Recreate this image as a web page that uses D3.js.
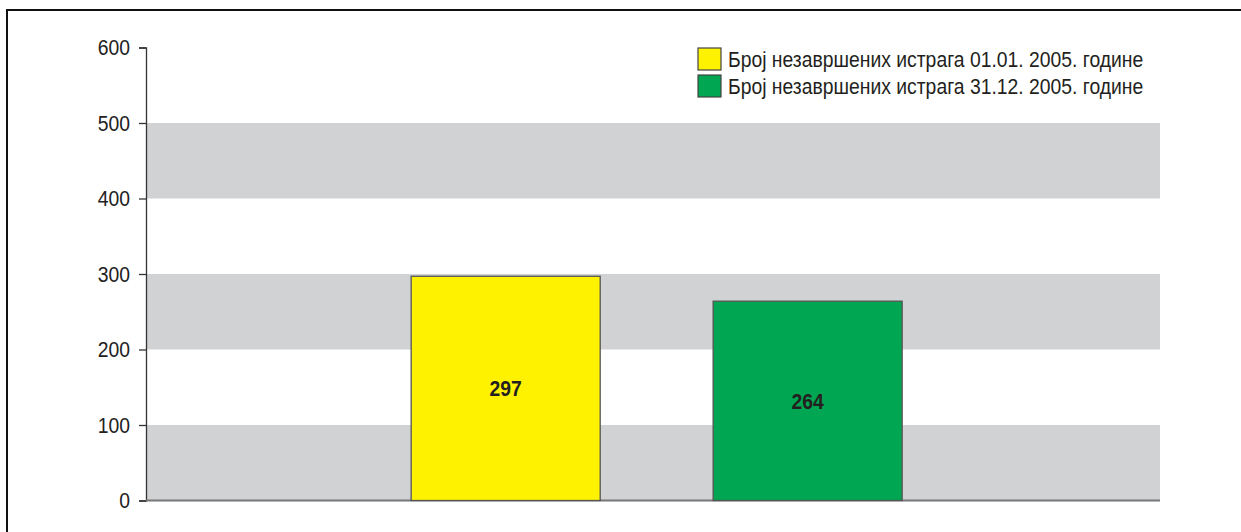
<!DOCTYPE html>
<html>
<head>
<meta charset="utf-8">
<script src="https://cdn.jsdelivr.net/npm/d3@7"></script>
<style>
  html, body { margin: 0; padding: 0; background: #fff; }
  svg { display: block; }
  text { font-family: "Liberation Sans", Arial, Helvetica, sans-serif; }
</style>
</head>
<body>
<svg id="chart" width="1241" height="532"></svg>
<script>
// Series shown as the two bars
const seriesNames = [
  "Број незавршених истрага 01.01. 2005. године",
  "Број незавршених истрага 31.12. 2005. године"
];
const seriesValues = [297, 264];
const seriesColors = ["#fff200", "#00a651"];
const yTicks = [0, 100, 200, 300, 400, 500, 600];

// Horizontal squeeze giving a condensed look to the sans font
const NARROW = 0.86;
const FONT = 22.5;

const svg = d3.select("#chart");
const plot = { left: 146, right: 1160, top: 47.5, bottom: 500.5 };

const y = d3.scaleLinear().domain([0, 600]).range([plot.bottom, plot.top]);
const x = d3.scaleBand().domain(seriesNames).range([plot.left, plot.right])
  .paddingInner(0.374).paddingOuter(0.866).align(0.507);

// Frame lines at the top and left edge
svg.append("line").attr("x1", 6).attr("x2", 1241).attr("y1", 10).attr("y2", 10)
  .attr("stroke", "#111").attr("stroke-width", 2);
svg.append("line").attr("x1", 7).attr("x2", 7).attr("y1", 9).attr("y2", 532)
  .attr("stroke", "#111").attr("stroke-width", 2);

// Alternating grey bands
const bands = [[0, 100], [200, 300], [400, 500]];
svg.append("g").selectAll("rect").data(bands).join("rect")
  .attr("x", plot.left).attr("width", plot.right - plot.left)
  .attr("y", d => y(d[1])).attr("height", d => y(d[0]) - y(d[1]))
  .attr("fill", "#d1d2d4");

// Y axis
const yAxis = d3.axisLeft(y).tickValues(yTicks).tickSize(7).tickPadding(9);
const ga = svg.append("g").attr("transform", `translate(${plot.left},0)`).call(yAxis);
ga.select(".domain").attr("stroke", "#333").attr("stroke-width", 1.3);
ga.selectAll(".tick line").attr("stroke", "#333").attr("stroke-width", 1.3);
ga.selectAll(".tick text")
  .attr("fill", "#222").attr("font-size", FONT)
  .style("font-family", '"Liberation Sans", Arial, sans-serif')
  .attr("x", -16 / NARROW)
  .attr("transform", `scale(${NARROW},1)`);

// Baseline
svg.append("line").attr("x1", plot.left).attr("x2", plot.right)
  .attr("y1", y(0)).attr("y2", y(0))
  .attr("stroke", "#777").attr("stroke-width", 2);

// Bars
svg.append("g").selectAll("rect").data(seriesValues).join("rect")
  .attr("x", (d, i) => x(seriesNames[i]))
  .attr("width", x.bandwidth())
  .attr("y", d => y(d))
  .attr("height", d => y(0) - y(d))
  .attr("fill", (d, i) => seriesColors[i])
  .attr("stroke", "#555").attr("stroke-width", 1.3);

// Value labels
svg.append("g").selectAll("text").data(seriesValues).join("text")
  .attr("transform", (d, i) =>
    `translate(${x(seriesNames[i]) + x.bandwidth() / 2},${(y(d) + y(0)) / 2}) scale(${NARROW},1)`)
  .attr("dy", "0.36em")
  .attr("text-anchor", "middle")
  .attr("font-size", FONT).attr("font-weight", "bold").attr("fill", "#231f20")
  .text(d => d);

// Legend
const legend = svg.append("g").attr("transform", "translate(698,48)");
const items = legend.selectAll("g").data(seriesNames).join("g")
  .attr("transform", (d, i) => `translate(0,${i * 27})`);
items.append("rect").attr("width", 23).attr("height", 22)
  .attr("fill", (d, i) => seriesColors[i]).attr("stroke", "#444").attr("stroke-width", 1.2);
items.append("text")
  .attr("transform", `translate(30,11) scale(${NARROW},1)`)
  .attr("dy", "0.36em")
  .attr("font-size", FONT).attr("fill", "#231f20").text(d => d);
</script>
</body>
</html>
